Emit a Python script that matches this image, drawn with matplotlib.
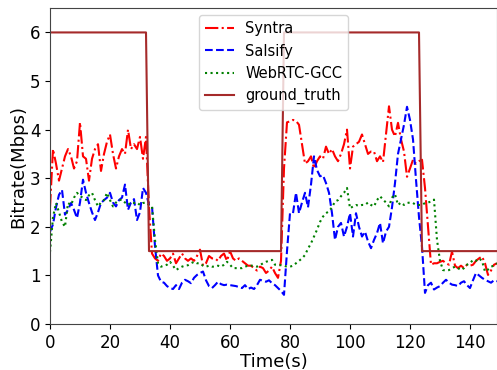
import numpy as np
import matplotlib
matplotlib.use('Agg')
import matplotlib.pyplot as plt

# time axis, one sample per second
time_s = np.arange(150)

syntra = [
    2.4, 3.6, 3.3, 2.95, 3.2, 3.45, 3.6, 3.45, 3.2, 3.35,
    4.15, 3.45, 3.4, 2.95, 3.4, 3.6, 3.7, 3.15, 3.5, 3.75,
    3.9, 3.5, 3.2, 3.45, 3.6, 3.5, 4.0, 3.6, 3.7, 3.6,
    3.85, 3.4, 3.85, 2.4, 1.45, 1.35, 1.3, 1.45, 1.4, 1.3,
    1.35, 1.45, 1.25, 1.35, 1.45, 1.35, 1.3, 1.35, 1.3, 1.4,
    1.53, 1.2, 1.25, 1.4, 1.35, 1.35, 1.3, 1.4, 1.45, 1.3,
    1.5, 1.35, 1.3, 1.35, 1.3, 1.25, 1.2, 1.2, 1.15, 1.1,
    1.18, 1.15, 1.05, 1.1, 1.18, 1.05, 0.95, 1.3, 3.2, 4.15,
    4.17, 4.2, 4.18, 4.1, 3.7, 3.3, 3.35, 3.45, 3.2, 3.35,
    3.45, 3.4, 3.65, 3.5, 3.6, 3.45, 3.35, 3.5, 3.7, 4.0,
    3.2, 3.65, 3.7, 3.75, 3.9, 3.7, 3.5, 3.55, 3.55, 3.35,
    3.45, 3.33, 3.9, 4.48, 4.0, 3.86, 4.14, 3.8, 3.55, 3.03,
    3.2, 3.38, 3.3, 3.35, 3.38, 2.8, 2.0, 1.22, 1.25, 1.25,
    1.28, 1.3, 1.25, 1.22, 1.49, 1.2, 1.15, 1.2, 1.15, 1.22,
    1.2, 1.22, 1.3, 1.35, 1.39, 1.25, 1.01, 1.1, 1.22, 1.25,
]

salsify = [
    1.9, 2.05, 2.4, 2.66, 2.76, 2.25, 2.35, 2.49, 2.35, 2.18,
    2.5, 2.97, 2.7, 2.49, 2.3, 2.14, 2.3, 2.49, 2.55, 2.6,
    2.7, 2.5, 2.42, 2.55, 2.6, 2.87, 2.35, 2.5, 2.57, 2.14,
    2.3, 2.8, 2.7, 2.45, 2.42, 1.6, 1.0, 0.87, 0.85, 0.78,
    0.74, 0.72, 0.8, 0.72, 0.85, 0.91, 0.88, 0.84, 0.95, 1.01,
    1.05, 1.08, 0.9, 0.78, 0.74, 0.8, 0.87, 0.82, 0.8, 0.81,
    0.8, 0.79, 0.78, 0.76, 0.74, 0.8, 0.72, 0.75, 0.72, 0.8,
    0.91, 0.89, 0.87, 0.9, 0.84, 0.8, 0.74, 0.68, 0.6, 1.5,
    2.28, 2.28, 2.7, 2.28, 2.5, 2.7, 2.4, 2.87, 3.45, 3.17,
    3.04, 3.06, 2.9, 2.7, 2.28, 1.73, 2.0, 2.08, 1.8, 2.0,
    2.28, 1.8, 2.28, 2.0, 1.8, 1.9, 1.7, 1.56, 1.73, 1.87,
    2.08, 1.66, 1.9, 2.0, 2.4, 2.9, 3.5, 3.8, 4.1, 4.47,
    4.2, 3.8, 2.97, 2.2, 1.59, 0.64, 0.8, 0.85, 0.71, 0.75,
    0.78, 0.85, 0.91, 0.85, 0.81, 0.8, 0.78, 0.85, 0.88, 0.8,
    0.74, 0.9, 1.05, 1.0, 0.95, 0.91, 0.88, 0.85, 0.9, 0.88,
]

webrtc_gcc = [
    1.48, 2.2, 2.49, 2.3, 2.1, 2.0, 2.49, 2.45, 2.6, 2.7,
    2.63, 2.6, 2.55, 2.65, 2.7, 2.55, 2.42, 2.5, 2.55, 2.7,
    2.55, 2.42, 2.5, 2.55, 2.56, 2.5, 2.45, 2.5, 2.49, 2.5,
    2.45, 2.49, 2.5, 2.45, 2.42, 1.73, 1.25, 1.18, 1.2, 1.22,
    1.28, 1.2, 1.11, 1.15, 1.18, 1.2, 1.21, 1.25, 1.28, 1.25,
    1.25, 1.2, 1.18, 1.2, 1.18, 1.18, 1.2, 1.18, 1.22, 1.28,
    1.22, 1.15, 1.15, 1.15, 1.15, 1.18, 1.2, 1.2, 1.2, 1.18,
    1.21, 1.25, 1.28, 1.3, 1.32, 1.22, 1.21, 1.21, 1.2, 1.18,
    1.18, 1.2, 1.25, 1.3, 1.35, 1.42, 1.55, 1.66, 1.8, 1.94,
    2.1, 2.21, 2.28, 2.32, 2.4, 2.52, 2.55, 2.63, 2.7, 2.8,
    2.38, 2.42, 2.45, 2.43, 2.45, 2.45, 2.5, 2.45, 2.42, 2.55,
    2.63, 2.56, 2.5, 2.42, 2.6, 2.67, 2.45, 2.5, 2.45, 2.49,
    2.5, 2.49, 2.45, 2.45, 2.45, 2.49, 2.5, 2.52, 2.56, 1.73,
    1.3, 1.11, 1.1, 1.11, 1.15, 1.18, 1.15, 1.11, 1.15, 1.22,
    1.25, 1.32, 1.3, 1.35, 1.3, 1.08, 1.12, 1.18, 1.2, 1.25,
]

# ground truth capacity (breakpoints)
gt_time = [0, 32, 33, 77, 78, 123, 124, 149]
gt_rate = [6, 6, 1.5, 1.5, 6, 6, 1.5, 1.5]

fig = plt.figure(figsize=(4.97, 3.70), dpi=100)
ax = fig.add_axes([0.1006, 0.1243, 0.8994, 0.8537])

ax.plot(time_s, syntra, color='r', linestyle='-.', linewidth=1.5, label='Syntra')
ax.plot(time_s, salsify, color='b', linestyle='--', linewidth=1.5, label='Salsify')
ax.plot(time_s, webrtc_gcc, color='g', linestyle=':', linewidth=1.5, label='WebRTC-GCC')
ax.plot(gt_time, gt_rate, color='brown', linestyle='-', linewidth=1.5, label='ground_truth')

ax.set_xlim(0, 149)
ax.set_ylim(0, 6.5)
ax.set_xticks([0, 20, 40, 60, 80, 100, 120, 140])
ax.set_yticks([0, 1, 2, 3, 4, 5, 6])
ax.tick_params(labelsize=12)
for sp in ax.spines.values():
    sp.set_color('#444444')
ax.set_xlabel('Time(s)', fontsize=13, labelpad=1)
ax.set_ylabel('Bitrate(Mbps)', fontsize=13, labelpad=2)

ax.legend(loc='upper center', fontsize=10.5)

fig.savefig('out.png', dpi=100)
